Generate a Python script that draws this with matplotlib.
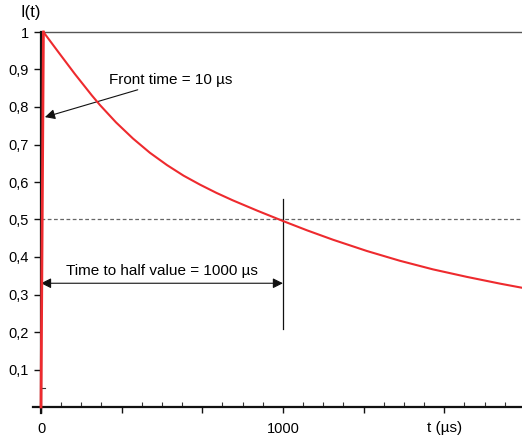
import numpy as np
import matplotlib.pyplot as plt

plt.rcParams['font.family'] = ['Liberation Sans', 'DejaVu Sans']

# impulse current, values
rise_t = [0, 10]
rise_i = [0.0, 1.0]
decay_t = [10, 70, 140, 210, 244, 310, 380, 450, 521, 589, 657, 725, 793, 896,
           1000, 1100, 1207, 1347, 1483, 1620, 1760, 1897, 1988]
decay_i = [1.0, 0.948, 0.888, 0.831, 0.805, 0.759, 0.716, 0.678, 0.645, 0.617, 0.593,
           0.571, 0.551, 0.523, 0.496, 0.471, 0.446, 0.416, 0.390, 0.367, 0.347, 0.329, 0.318]

front_time = 10
half_time = 1000
half_value = 0.5
ytick_vals = [0.1, 0.2, 0.3, 0.4, 0.5, 0.6, 0.7, 0.8, 0.9, 1.0]
ytick_labels = ['0,1', '0,2', '0,3', '0,4', '0,5', '0,6', '0,7', '0,8', '0,9', '1']
xtick_vals = [0, 1000 / 3, 2000 / 3, 1000, 4000 / 3, 5000 / 3]
xtick_labels = ['0', '', '', '1000', '', '']

xmax = 1988
red = '#ee2a2e'

fig = plt.figure(figsize=(5.22, 4.36), dpi=100)
ax = fig.add_axes([41 / 522, 1 - 407 / 436, 1 - 41 / 522, (407 - 32) / 436])
ax.set_xlim(0, xmax)
ax.set_ylim(0, 1)

for s in ['left', 'bottom', 'right']:
    ax.spines[s].set_visible(False)
ax.spines['top'].set_color('#555555')
ax.spines['top'].set_linewidth(1.0)

# axis lines, a little past the origin
ax.plot([-33, xmax], [0, 0], color='#111111', lw=1.6, clip_on=False, zorder=4)
ax.plot([0, 0], [-0.016, 1.0], color='#111111', lw=1.6, clip_on=False, zorder=4)

# ticks
ax.set_yticks(ytick_vals)
ax.set_yticklabels(ytick_labels, fontsize=10.5)
ax.tick_params(axis='y', direction='out', length=5, width=1, color='#111111', pad=4)
ax.set_xticks(xtick_vals)
ax.set_xticklabels(xtick_labels, fontsize=10.5)
ax.tick_params(axis='x', direction='out', length=4.5, width=1, color='#111111', pad=6)
ax.set_xticks(np.arange(0, xmax, 1000 / 12), minor=True)
ax.tick_params(axis='x', which='minor', direction='in', length=3.5, width=0.8, color='#333333')
ax.tick_params(axis='y', which='minor', left=False)

# small mark at 0.05
ax.plot([0, 18], [0.05, 0.05], color='#333333', lw=0.8, clip_on=False)

# reference lines
ax.axhline(half_value, color='#666666', lw=0.9, ls=(0, (3, 2)), zorder=1)
ax.plot([half_time, half_time], [0.208, 0.555], color='#111111', lw=0.9)

# curve
ax.plot(rise_t, rise_i, color=red, lw=2.0, clip_on=False, zorder=5)
ax.plot(decay_t, decay_i, color=red, lw=1.5, clip_on=False, zorder=5)

# annotations
ax.annotate('Front time = ' + str(front_time) + ' µs', xy=(16, 0.773), xytext=(282, 0.872),
            fontsize=11, va='center', ha='left',
            arrowprops=dict(arrowstyle='-|>', color='#111111', lw=0.8,
                            mutation_scale=15, shrinkA=0, shrinkB=0))
ax.annotate('', xy=(0, 0.33), xytext=(half_time, 0.33),
            arrowprops=dict(arrowstyle='<|-|>', color='#111111', lw=0.8,
                            mutation_scale=15, shrinkA=0, shrinkB=0))
ax.text(half_time / 2, 0.363, 'Time to half value = ' + str(half_time) + ' µs',
        fontsize=11, ha='center', va='center')

ax.text(1667, -0.055, 't (µs)', fontsize=11, ha='center', va='center')
fig.text(31 / 522, 1 - 12 / 436, 'I(t)', fontsize=12, ha='center', va='center')

fig.savefig('out.png', dpi=100)
